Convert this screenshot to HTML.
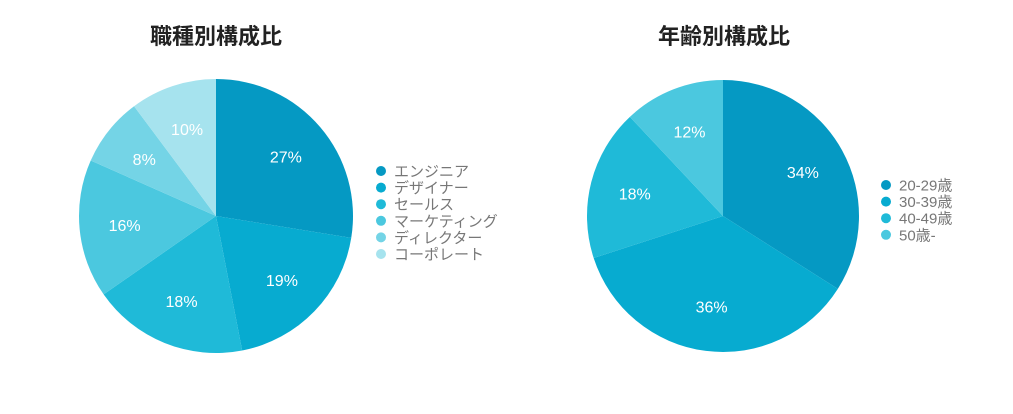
<!DOCTYPE html>
<html><head><meta charset="utf-8"><style>
body{margin:0;background:#fff;width:1013px;height:414px;overflow:hidden}
svg{display:block;font-family:"Liberation Sans","Noto Sans CJK JP",sans-serif}
</style></head><body>
<svg id="c" width="1013" height="414">
<text x="216" y="44" text-anchor="middle" font-size="22" font-weight="bold" fill="#222">職種別構成比</text>
<text x="724" y="44" text-anchor="middle" font-size="22" font-weight="bold" fill="#222">年齢別構成比</text>
</svg>
<script>
const jobCategories=["エンジニア","デザイナー","セールス","マーケティング","ディレクター","コーポレート"];
const jobValues=[27,19,18,16,8,10];
const ageCategories=["20-29歳","30-39歳","40-49歳","50歳-"];
const ageValues=[34,36,18,12];
const colors=["#0599c3","#07abd0","#1fbad8","#4bc8df","#74d4e6","#a6e3ee"];
const svg=document.getElementById('c');
const NS="http://www.w3.org/2000/svg";
function mk(t,a){const e=document.createElementNS(NS,t);for(const k in a)e.setAttribute(k,a[k]);svg.appendChild(e);return e;}
function pie(cx,cy,r,cats,vals,lx,ly,prefix){
  const tot=vals.reduce((a,b)=>a+b,0);let a0=0;
  vals.forEach((v,i)=>{
    const a1=a0+v/tot*2*Math.PI;
    const x0=cx+r*Math.sin(a0),y0=cy-r*Math.cos(a0),x1=cx+r*Math.sin(a1),y1=cy-r*Math.cos(a1);
    const p=mk('path',{d:`M${cx},${cy}L${x0},${y0}A${r},${r} 0 ${a1-a0>Math.PI?1:0} 1 ${x1},${y1}Z`,fill:colors[i]});
    
    
    const am=(a0+a1)/2,lr=r*0.67;
    const t=mk('text',{x:cx+lr*Math.sin(am),y:cy-lr*Math.cos(am)+6,'text-anchor':'middle','font-size':16,fill:'#fff'});
    t.textContent=v+'%';
    
    
    a0=a1;
  });
  cats.forEach((c,i)=>{
    const y=ly+i*16.6;
    const d=mk('circle',{cx:lx,cy:y,r:5,fill:colors[i]});
    
    
    const t=mk('text',{x:lx+13,y:y+5.5,'font-size':15,fill:'#777'});
    t.textContent=c;
    
    
  });
}
pie(216,216,137,jobCategories,jobValues,381,171,'job');
pie(723,216,136,ageCategories,ageValues,886,185,'age');
</script>
</body></html>
